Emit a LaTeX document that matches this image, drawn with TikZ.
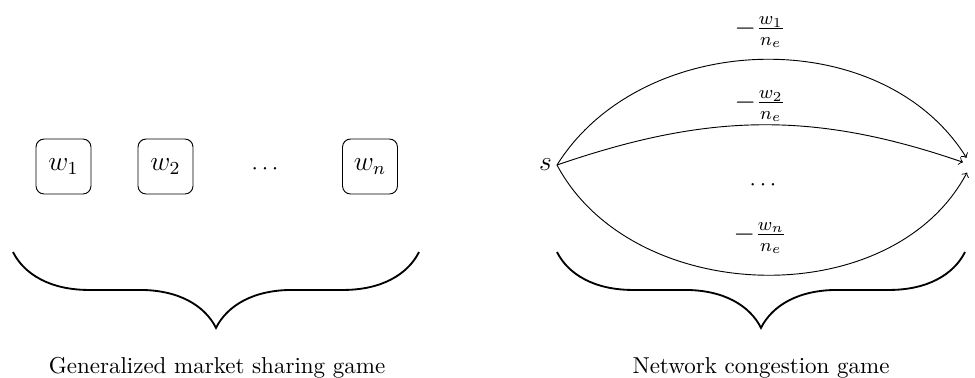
\documentclass[tikz,border=0pt]{standalone}
\usetikzlibrary{decorations.pathreplacing,arrows}
\begin{document}
\begin{tikzpicture}[x=0.4348pt,y=-0.4348pt,
  wbox/.style={draw, rounded corners=3.5pt, minimum size=23.9pt, inner sep=0pt, font=\large},
  bigbrace/.style={decorate, decoration={brace, amplitude=33pt, mirror}, thick},
  edgelbl/.style={font=\large, inner sep=0pt},
  caption/.style={anchor=base, inner sep=0pt}]
\useasboundingbox (0,0) rectangle (975,377);
% left part
\node[wbox] (w1) at (63.5,166.5) {$w_1$};
\node[wbox] (w2) at (165.5,166.5) {$w_2$};
\node (dl) at (265,169.5) {$\cdots$};
\node[wbox] (wn) at (370,166.5) {$w_n$};
\coordinate (bl1) at (13,252);
\coordinate (bl2) at (419,252);
\draw[bigbrace] (bl1) -- (bl2);
\node[caption] (gl) at (217,373) {Generalized market sharing game};
% right part
\coordinate[label={[inner sep=2pt, font=\large]left:$s$}] (s) at (557,165);
\node[circle, inner sep=0pt, minimum size=7pt] (t) at (971,165) {};
\draw[->] (s) to[out=58,in=122] (t);
\draw[->] (s) to[out=19,in=161] (t);
\draw[->] (s) to[out=-62,in=-118] (t);
\node[edgelbl] (l1) at (760,32) {$-\frac{w_1}{n_e}$};
\node[edgelbl] (l2) at (760,106) {$-\frac{w_2}{n_e}$};
\node (dr) at (763,185.5) {$\cdots$};
\node[edgelbl] (ln) at (760,238) {$-\frac{w_n}{n_e}$};
\coordinate (br1) at (557,252);
\coordinate (br2) at (965,252);
\draw[bigbrace] (br1) -- (br2);
\node[caption] (nl) at (761,373) {Network congestion game};
\end{tikzpicture}
\end{document}
